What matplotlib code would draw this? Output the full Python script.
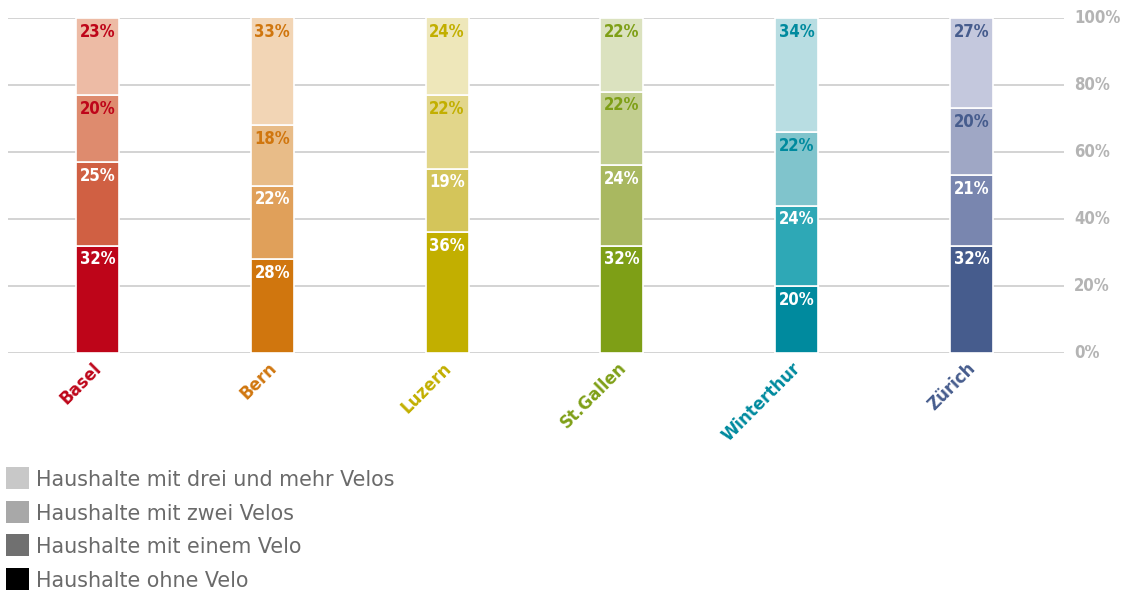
import matplotlib
matplotlib.use("Agg")
import matplotlib.pyplot as plt
from matplotlib.patches import Rectangle

# Data: share of households by number of bicycles, per city (percent)
cities = ["Basel", "Bern", "Luzern", "St.Gallen", "Winterthur", "Zürich"]
ohne_velo = [32, 28, 36, 32, 20, 32]
ein_velo = [25, 22, 19, 24, 24, 21]
zwei_velos = [20, 18, 22, 22, 22, 20]
drei_mehr_velos = [23, 33, 24, 22, 34, 27]

series = [ohne_velo, ein_velo, zwei_velos, drei_mehr_velos]
legend_labels = [
    "Haushalte mit drei und mehr Velos",
    "Haushalte mit zwei Velos",
    "Haushalte mit einem Velo",
    "Haushalte ohne Velo",
]
y_ticks = [0, 20, 40, 60, 80, 100]

# Shades per city, from darkest (ohne Velo) to lightest (3+ Velos)
city_shades = {
    "Basel": ["#BE0519", "#D06043", "#DE8B6E", "#EDBBA5"],
    "Bern": ["#D0760E", "#E0A05A", "#E8BC88", "#F2D5B5"],
    "Luzern": ["#C2AF00", "#D4C55A", "#E2D68A", "#EEE7BA"],
    "St.Gallen": ["#7E9F16", "#A9B860", "#C2CE90", "#DBE2BF"],
    "Winterthur": ["#008A9E", "#2EA8B6", "#80C4CC", "#B8DDE2"],
    "Zürich": ["#465C8D", "#7986AF", "#9FA7C5", "#C4C8DD"],
}
legend_colors = ["#C8C8C8", "#A8A8A8", "#707070", "#000000"]

W, H = 1125, 594
fig = plt.figure(figsize=(W / 100, H / 100), dpi=100)
ax = fig.add_axes([8 / W, 1 - 353 / H, (1064 - 8) / W, (353 - 18) / H])

font_cond = dict(family="DejaVu Sans", fontstretch="condensed", fontweight="bold")

x = list(range(len(cities)))
bar_w = 0.246
bottoms = [0] * len(cities)
for level, values in enumerate(series):
    cols = [city_shades[c][level] for c in cities]
    ax.bar(x, values, bottom=bottoms, width=bar_w, color=cols,
           edgecolor="white", linewidth=1.2, zorder=3)
    for i, v in enumerate(values):
        top = bottoms[i] + v
        txt_color = "white" if level < 2 else city_shades[cities[i]][0]
        ax.text(x[i], min(top, 100) - 1.4, f"{v}%", ha="center", va="top",
                color=txt_color, fontsize=12, zorder=4, **font_cond)
    bottoms = [b + v for b, v in zip(bottoms, values)]

ax.set_xlim(-0.512, 5.529)
ax.set_ylim(0, 100)
for t in y_ticks:
    ax.axhline(t, color="#C8C8C8", linewidth=1.1, zorder=1)
    ax.text(1.0 + 10 / (1064 - 8), t, f"{t}%", transform=ax.get_yaxis_transform(),
            ha="left", va="center", color="#B4B4B4", fontsize=12, **font_cond)

for s in ax.spines.values():
    s.set_visible(False)
ax.set_yticks([])
ax.set_xticks([])

for i, c in enumerate(cities):
    ax.annotate(c, xy=(x[i], 0), xytext=(-3.6, -4.3), textcoords="offset points",
                ha="right", va="top", rotation=45, rotation_mode="anchor",
                color=city_shades[c][0], fontsize=12, fontweight="bold",
                family="DejaVu Sans")

# Legend drawn as squares and text in pixel coordinates
row_tops = [467, 501, 534, 568]
for top, lab, col in zip(row_tops, legend_labels, legend_colors):
    fig.patches.append(Rectangle((6 / W, 1 - (top + 22) / H), 23 / W, 22 / H,
                                 transform=fig.transFigure, facecolor=col,
                                 edgecolor="none"))
    fig.text(36 / W, 1 - (top + 13) / H, lab, ha="left", va="center",
             color="#6A6A6A", fontsize=14.9, family="DejaVu Sans")

fig.savefig("out.png", dpi=100, facecolor="white")
